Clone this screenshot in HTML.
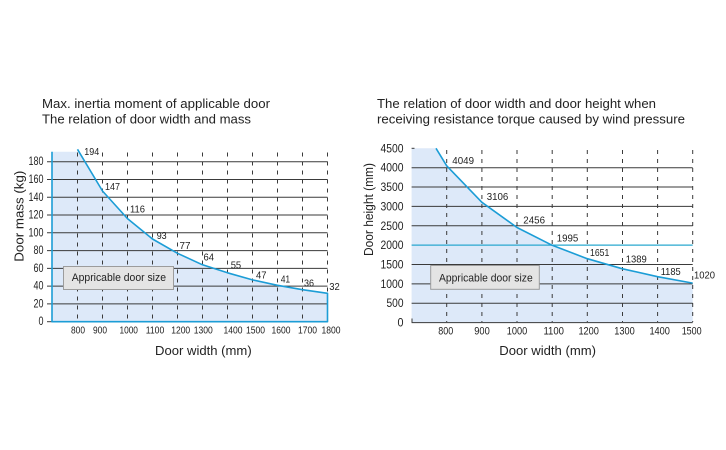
<!DOCTYPE html>
<html><head><meta charset="utf-8"><style>
html,body{margin:0;padding:0;background:#fff;}
svg{display:block;}
text{font-family:"Liberation Sans",sans-serif;fill:#222;}
</style></head><body>
<svg width="726" height="450" viewBox="0 0 726 450" xmlns="http://www.w3.org/2000/svg">
<rect x="0" y="0" width="726" height="450" fill="#fff"/>

<!-- Titles -->
<text x="42" y="108" font-size="12.5" textLength="228" lengthAdjust="spacingAndGlyphs">Max. inertia moment of applicable door</text>
<text x="42" y="123.5" font-size="12.5" textLength="209" lengthAdjust="spacingAndGlyphs">The relation of door width and mass</text>
<text x="377" y="108" font-size="12.5" textLength="279" lengthAdjust="spacingAndGlyphs">The relation of door width and door height when</text>
<text x="377" y="123.5" font-size="12.5" textLength="308" lengthAdjust="spacingAndGlyphs">receiving resistance torque caused by wind pressure</text>

<!-- ================= LEFT CHART ================= -->
<polygon fill="#dde9f9" points="52,151.7 78.9,151.7 102.5,191 127.5,218.6 152.5,239 177.5,253.3 202.5,264.8 227.5,272.8 252.5,279.9 277.5,285.3 302.5,289.7 327.5,293.3 327.5,321.7 52,321.7"/>
<g stroke="#3a3a3a" stroke-width="1">
<line x1="47" y1="303.9" x2="327.5" y2="303.9"/>
<line x1="47" y1="286.1" x2="327.5" y2="286.1"/>
<line x1="47" y1="268.4" x2="327.5" y2="268.4"/>
<line x1="47" y1="250.6" x2="327.5" y2="250.6"/>
<line x1="47" y1="232.8" x2="327.5" y2="232.8"/>
<line x1="47" y1="215.0" x2="327.5" y2="215.0"/>
<line x1="47" y1="197.3" x2="327.5" y2="197.3"/>
<line x1="47" y1="179.5" x2="327.5" y2="179.5"/>
<line x1="47" y1="161.7" x2="327.5" y2="161.7"/>
<line x1="47" y1="321.7" x2="52" y2="321.7"/>
</g>
<g stroke="#3a3a3a" stroke-width="1" stroke-dasharray="4 5">
<line x1="77.5" y1="152.5" x2="77.5" y2="321"/>
<line x1="102.5" y1="152.5" x2="102.5" y2="321"/>
<line x1="127.5" y1="152.5" x2="127.5" y2="321"/>
<line x1="152.5" y1="152.5" x2="152.5" y2="321"/>
<line x1="177.5" y1="152.5" x2="177.5" y2="321"/>
<line x1="202.5" y1="152.5" x2="202.5" y2="321"/>
<line x1="227.5" y1="152.5" x2="227.5" y2="321"/>
<line x1="252.5" y1="152.5" x2="252.5" y2="321"/>
<line x1="277.5" y1="152.5" x2="277.5" y2="321"/>
<line x1="302.5" y1="152.5" x2="302.5" y2="321"/>
<line x1="327.5" y1="152.5" x2="327.5" y2="321"/>
</g>
<path d="M52,151.7 L52,321.7 L327.5,321.7 L327.5,293.3 L302.5,289.7 L277.5,285.3 L252.5,279.9 L227.5,272.8 L202.5,264.8 L177.5,253.3 L152.5,239 L127.5,218.6 L102.5,191 L77.5,149.3" fill="none" stroke="#1c9dd6" stroke-width="1.6" stroke-linejoin="round"/>

<!-- left y ticks -->
<g font-size="11.5" text-anchor="end">
<text x="43.5" y="165.2" textLength="15" lengthAdjust="spacingAndGlyphs">180</text>
<text x="43.5" y="183" textLength="15" lengthAdjust="spacingAndGlyphs">160</text>
<text x="43.5" y="200.8" textLength="15" lengthAdjust="spacingAndGlyphs">140</text>
<text x="43.5" y="218.5" textLength="15" lengthAdjust="spacingAndGlyphs">120</text>
<text x="43.5" y="236.3" textLength="15" lengthAdjust="spacingAndGlyphs">100</text>
<text x="43.5" y="254.1" textLength="10" lengthAdjust="spacingAndGlyphs">80</text>
<text x="43.5" y="271.9" textLength="10" lengthAdjust="spacingAndGlyphs">60</text>
<text x="43.5" y="289.6" textLength="10" lengthAdjust="spacingAndGlyphs">40</text>
<text x="43.5" y="307.4" textLength="10" lengthAdjust="spacingAndGlyphs">20</text>
<text x="43.5" y="325.2" textLength="5" lengthAdjust="spacingAndGlyphs">0</text>
</g>
<!-- left x ticks -->
<g font-size="10" text-anchor="middle">
<text x="78" y="333.7" textLength="14" lengthAdjust="spacingAndGlyphs">800</text>
<text x="100" y="333.7" textLength="14" lengthAdjust="spacingAndGlyphs">900</text>
<text x="128.7" y="333.7" textLength="18.5" lengthAdjust="spacingAndGlyphs">1000</text>
<text x="155" y="333.7" textLength="18.5" lengthAdjust="spacingAndGlyphs">1100</text>
<text x="180.7" y="333.7" textLength="19" lengthAdjust="spacingAndGlyphs">1200</text>
<text x="203.3" y="333.7" textLength="19" lengthAdjust="spacingAndGlyphs">1300</text>
<text x="233" y="333.7" textLength="19" lengthAdjust="spacingAndGlyphs">1400</text>
<text x="255.5" y="333.7" textLength="19" lengthAdjust="spacingAndGlyphs">1500</text>
<text x="281" y="333.7" textLength="19" lengthAdjust="spacingAndGlyphs">1600</text>
<text x="307.5" y="333.7" textLength="19" lengthAdjust="spacingAndGlyphs">1700</text>
<text x="331" y="333.7" textLength="19" lengthAdjust="spacingAndGlyphs">1800</text>
</g>
<!-- left data labels -->
<g font-size="10.5">
<text x="84.3" y="155" textLength="15" lengthAdjust="spacingAndGlyphs">194</text>
<text x="105" y="190" textLength="15" lengthAdjust="spacingAndGlyphs">147</text>
<text x="130" y="212.5" textLength="15" lengthAdjust="spacingAndGlyphs">116</text>
<text x="156.7" y="239" textLength="10" lengthAdjust="spacingAndGlyphs">93</text>
<text x="179.5" y="249" textLength="11" lengthAdjust="spacingAndGlyphs">77</text>
<text x="203.5" y="260.7" textLength="10.5" lengthAdjust="spacingAndGlyphs">64</text>
<text x="230.7" y="268.3" textLength="10.5" lengthAdjust="spacingAndGlyphs">55</text>
<text x="256" y="278.3" textLength="10.5" lengthAdjust="spacingAndGlyphs">47</text>
<text x="280.7" y="282.7" textLength="9.5" lengthAdjust="spacingAndGlyphs">41</text>
<text x="304" y="286.6" textLength="10" lengthAdjust="spacingAndGlyphs">36</text>
<text x="329.3" y="290" textLength="10.5" lengthAdjust="spacingAndGlyphs">32</text>
</g>
<!-- left box -->
<rect x="63.5" y="266.5" width="110" height="23" fill="#e4e4e4" stroke="#9c9c9c" stroke-width="1"/>
<text x="71.7" y="281" font-size="11" textLength="94.3" lengthAdjust="spacingAndGlyphs" fill="#333">Appricable door size</text>
<!-- left axis titles -->
<text x="155" y="355" font-size="13" textLength="96.7" lengthAdjust="spacingAndGlyphs">Door width (mm)</text>
<text transform="translate(23.5,216.2) rotate(-90)" x="0" y="0" font-size="13" text-anchor="middle" textLength="91" lengthAdjust="spacingAndGlyphs">Door mass (kg)</text>

<!-- ================= RIGHT CHART ================= -->
<polygon fill="#dde9f9" points="411.6,148.3 436,148.3 446.7,165.8 481.9,202.3 517,227.5 552.2,245.3 587.3,258.7 622.5,268.8 657.6,276.7 692.7,283.1 692.7,322.6 411.6,322.6"/>
<g stroke="#3a3a3a" stroke-width="1">
<line x1="411.6" y1="303.2" x2="692.7" y2="303.2"/>
<line x1="411.6" y1="283.9" x2="692.7" y2="283.9"/>
<line x1="411.6" y1="264.5" x2="692.7" y2="264.5"/>
<line x1="411.6" y1="225.8" x2="692.7" y2="225.8"/>
<line x1="411.6" y1="206.4" x2="692.7" y2="206.4"/>
<line x1="411.6" y1="187.0" x2="692.7" y2="187.0"/>
<line x1="411.6" y1="167.7" x2="692.7" y2="167.7"/>
<line x1="411.6" y1="322.6" x2="692.7" y2="322.6"/>
<line x1="411.6" y1="148.3" x2="414.5" y2="148.3"/>
<line x1="412" y1="318.5" x2="412" y2="322.6"/>
</g>
<line x1="411.6" y1="245.1" x2="692.7" y2="245.1" stroke="#2aa8cf" stroke-width="1.2"/>
<g stroke="#3a3a3a" stroke-width="1" stroke-dasharray="4 5">
<line x1="446.7" y1="150" x2="446.7" y2="322"/>
<line x1="481.9" y1="150" x2="481.9" y2="322"/>
<line x1="517" y1="150" x2="517" y2="322"/>
<line x1="552.2" y1="150" x2="552.2" y2="322"/>
<line x1="587.3" y1="150" x2="587.3" y2="322"/>
<line x1="622.5" y1="150" x2="622.5" y2="322"/>
<line x1="657.6" y1="150" x2="657.6" y2="322"/>
<line x1="692.7" y1="150" x2="692.7" y2="322"/>
</g>
<path d="M436,148.3 L446.7,165.8 L481.9,202.3 L517,227.5 L552.2,245.3 L587.3,258.7 L622.5,268.8 L657.6,276.7 L692.7,283.1" fill="none" stroke="#1c9dd6" stroke-width="1.6" stroke-linejoin="round"/>

<!-- right y ticks -->
<g font-size="11.5" text-anchor="end">
<text x="403.5" y="152.3" textLength="23" lengthAdjust="spacingAndGlyphs">4500</text>
<text x="403.5" y="171.7" textLength="23" lengthAdjust="spacingAndGlyphs">4000</text>
<text x="403.5" y="191" textLength="23" lengthAdjust="spacingAndGlyphs">3500</text>
<text x="403.5" y="210.4" textLength="23" lengthAdjust="spacingAndGlyphs">3000</text>
<text x="403.5" y="229.8" textLength="23" lengthAdjust="spacingAndGlyphs">2500</text>
<text x="403.5" y="249.1" textLength="23" lengthAdjust="spacingAndGlyphs">2000</text>
<text x="403.5" y="268.5" textLength="23" lengthAdjust="spacingAndGlyphs">1500</text>
<text x="403.5" y="287.9" textLength="23" lengthAdjust="spacingAndGlyphs">1000</text>
<text x="403.5" y="307.2" textLength="17" lengthAdjust="spacingAndGlyphs">500</text>
<text x="403.5" y="326.6" textLength="6" lengthAdjust="spacingAndGlyphs">0</text>
</g>
<!-- right x ticks -->
<g font-size="11" text-anchor="middle">
<text x="445.8" y="334.3" textLength="15" lengthAdjust="spacingAndGlyphs">800</text>
<text x="482" y="334.3" textLength="15.5" lengthAdjust="spacingAndGlyphs">900</text>
<text x="517" y="334.3" textLength="20.5" lengthAdjust="spacingAndGlyphs">1000</text>
<text x="553.7" y="334.3" textLength="20.5" lengthAdjust="spacingAndGlyphs">1100</text>
<text x="588.7" y="334.3" textLength="20.5" lengthAdjust="spacingAndGlyphs">1200</text>
<text x="624.5" y="334.3" textLength="20.5" lengthAdjust="spacingAndGlyphs">1300</text>
<text x="659.7" y="334.3" textLength="20.5" lengthAdjust="spacingAndGlyphs">1400</text>
<text x="691.7" y="334.3" textLength="20" lengthAdjust="spacingAndGlyphs">1500</text>
</g>
<!-- right data labels -->
<g font-size="10.5">
<text x="452.3" y="164" textLength="21.7" lengthAdjust="spacingAndGlyphs">4049</text>
<text x="486.7" y="200" textLength="21.6" lengthAdjust="spacingAndGlyphs">3106</text>
<text x="523.3" y="223.3" textLength="21.7" lengthAdjust="spacingAndGlyphs">2456</text>
<text x="556.7" y="241.5" textLength="21.6" lengthAdjust="spacingAndGlyphs">1995</text>
<text x="590" y="256" textLength="19.3" lengthAdjust="spacingAndGlyphs">1651</text>
<text x="625.7" y="262.7" textLength="21" lengthAdjust="spacingAndGlyphs">1389</text>
<text x="660.7" y="275" textLength="20" lengthAdjust="spacingAndGlyphs">1185</text>
<text x="694" y="278.3" textLength="21" lengthAdjust="spacingAndGlyphs">1020</text>
</g>
<!-- right box -->
<rect x="430.7" y="265.5" width="108.6" height="23.8" fill="#e4e4e4" stroke="#9c9c9c" stroke-width="1"/>
<text x="439" y="281.7" font-size="11" textLength="93.7" lengthAdjust="spacingAndGlyphs" fill="#333">Appricable door size</text>
<!-- right axis titles -->
<text x="499.3" y="355" font-size="13" textLength="96.7" lengthAdjust="spacingAndGlyphs">Door width (mm)</text>
<text transform="translate(373,209.5) rotate(-90)" x="0" y="0" font-size="13" text-anchor="middle" textLength="93" lengthAdjust="spacingAndGlyphs">Door height (mm)</text>
</svg>
</body></html>
